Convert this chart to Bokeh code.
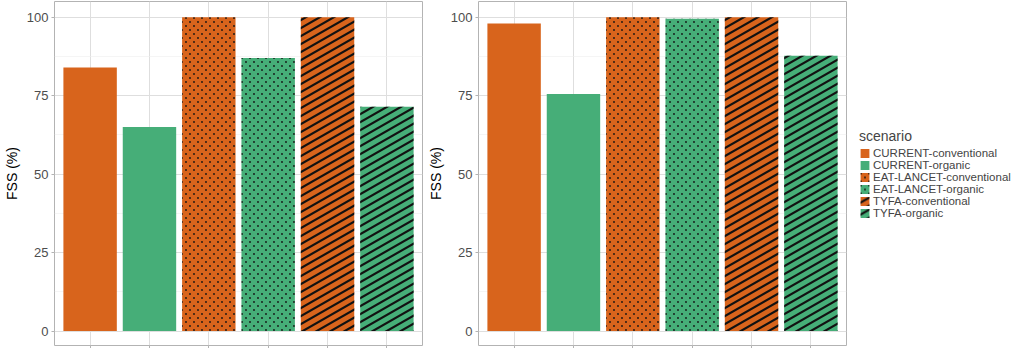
import base64
from bokeh.plotting import figure
from bokeh.models import (ColumnDataSource, FactorRange, FixedTicker, Legend, LegendItem,
                          ImageURLTexture)
from bokeh.layouts import row
from bokeh.embed import file_html
from bokeh.resources import INLINE

# ---- data ----
scenarios = ["CURRENT-conventional", "CURRENT-organic", "EAT-LANCET-conventional",
             "EAT-LANCET-organic", "TYFA-conventional", "TYFA-organic"]
fss_panel1 = [84.0, 65.0, 100.0, 87.0, 100.0, 71.5]
fss_panel2 = [98.0, 75.5, 100.0, 99.5, 100.0, 87.7]
y_ticks = [0, 25, 50, 75, 100]

# ---- styles ----
ORANGE = "#D8641C"
GREEN = "#46AE78"
FONT = "Liberation Sans"


def svg_url(svg):
    return "data:image/svg+xml;base64," + base64.b64encode(svg.encode()).decode()


DOTS_SVG = ('<svg xmlns="http://www.w3.org/2000/svg" width="8" height="8">'
            '<circle cx="2" cy="2" r="0.9" fill="#111"/>'
            '<circle cx="6" cy="6" r="0.9" fill="#111"/></svg>')
STRIPES_SVG = ('<svg xmlns="http://www.w3.org/2000/svg" width="14" height="8">'
               '<g stroke="#111" stroke-width="2.2">'
               '<line x1="-14" y1="8" x2="14" y2="-8"/>'
               '<line x1="0" y1="8" x2="14" y2="0"/>'
               '<line x1="0" y1="16" x2="28" y2="0"/>'
               '</g></svg>')
textures = {
    "dots": ImageURLTexture(url=svg_url(DOTS_SVG), repetition="repeat"),
    "stripes": ImageURLTexture(url=svg_url(STRIPES_SVG), repetition="repeat"),
}


def style_of(s):
    color = ORANGE if s.endswith("conventional") else GREEN
    if s.startswith("CURRENT"):
        return color, " "
    if s.startswith("EAT"):
        return color, "dots"
    return color, "stripes"


styles = [style_of(s) for s in scenarios]


def make_panel(values, with_legend):
    src = ColumnDataSource(dict(scenario=scenarios, fss=values,
                                color=[t[0] for t in styles],
                                hatch=[t[1] for t in styles]))
    p = figure(x_range=FactorRange(factors=scenarios, range_padding=0.1,
                                   range_padding_units="absolute"),
               y_range=(-4.6, 105),
               frame_width=368, frame_height=344,
               output_backend="svg", toolbar_location=None,
               min_border_top=1, min_border_bottom=0,
               min_border_left=10 if not with_legend else 44,
               min_border_right=2 if not with_legend else 0,
               background_fill_color="white", border_fill_color="white")
    r = p.vbar(x="scenario", top="fss", bottom=0, width=0.9, source=src,
               fill_color="color", line_color=None,
               hatch_pattern="hatch", hatch_extra=textures)
    p.outline_line_color = "#B3B3B3"
    p.outline_line_width = 1

    # y axis
    p.yaxis.ticker = FixedTicker(ticks=y_ticks, minor_ticks=[12.5, 37.5, 62.5, 87.5])
    p.yaxis.axis_label = "FSS (%)"
    p.yaxis.axis_label_text_font = FONT
    p.yaxis.axis_label_text_font_size = "14px"
    p.yaxis.axis_label_text_font_style = "normal"
    p.yaxis.axis_label_text_color = "black"
    p.yaxis.axis_label_standoff = 4
    p.yaxis.major_label_text_font = FONT
    p.yaxis.major_label_text_font_size = "13px"
    p.yaxis.major_label_text_color = "#4D4D4D"
    p.yaxis.major_label_standoff = 2
    p.yaxis.axis_line_color = None
    p.yaxis.major_tick_in = 0
    p.yaxis.major_tick_out = 3
    p.yaxis.major_tick_line_color = "#B3B3B3"
    p.yaxis.minor_tick_line_color = None

    # x axis (ticks only, no labels)
    p.xaxis.major_label_overrides = {s: " " for s in scenarios}
    p.xaxis.major_label_text_font_size = "2px"
    p.xaxis.major_label_text_alpha = 0
    p.xaxis.major_label_standoff = 0
    p.xaxis.axis_line_color = None
    p.xaxis.major_tick_in = 0
    p.xaxis.major_tick_out = 3
    p.xaxis.major_tick_line_color = "#B3B3B3"

    # grids
    p.ygrid.grid_line_color = "#DEDEDE"
    p.ygrid.grid_line_width = 1
    p.ygrid.minor_grid_line_color = "#EFEFEF"
    p.ygrid.minor_grid_line_width = 0.6
    p.xgrid.grid_line_color = "#DEDEDE"
    p.xgrid.grid_line_width = 1

    if with_legend:
        items = [LegendItem(label=s, renderers=[r], index=i) for i, s in enumerate(scenarios)]
        lg = Legend(items=items, location="center_left")
        lg.title = "scenario"
        lg.title_text_font = FONT
        lg.title_text_font_size = "14px"
        lg.title_text_font_style = "normal"
        lg.title_standoff = 3
        lg.label_text_font = FONT
        lg.label_text_font_size = "11.5px"
        lg.label_height = 10
        lg.glyph_height = 11
        lg.glyph_width = 11
        lg.label_standoff = 3
        lg.spacing = 0
        lg.padding = 0
        lg.margin = 13
        lg.border_line_color = None
        lg.background_fill_color = None
        p.add_layout(lg, "right")
    return p


p1 = make_panel(fss_panel1, False)
p2 = make_panel(fss_panel2, True)
layout = row(p1, p2)

open("out.html", "w").write(file_html(layout, INLINE))
